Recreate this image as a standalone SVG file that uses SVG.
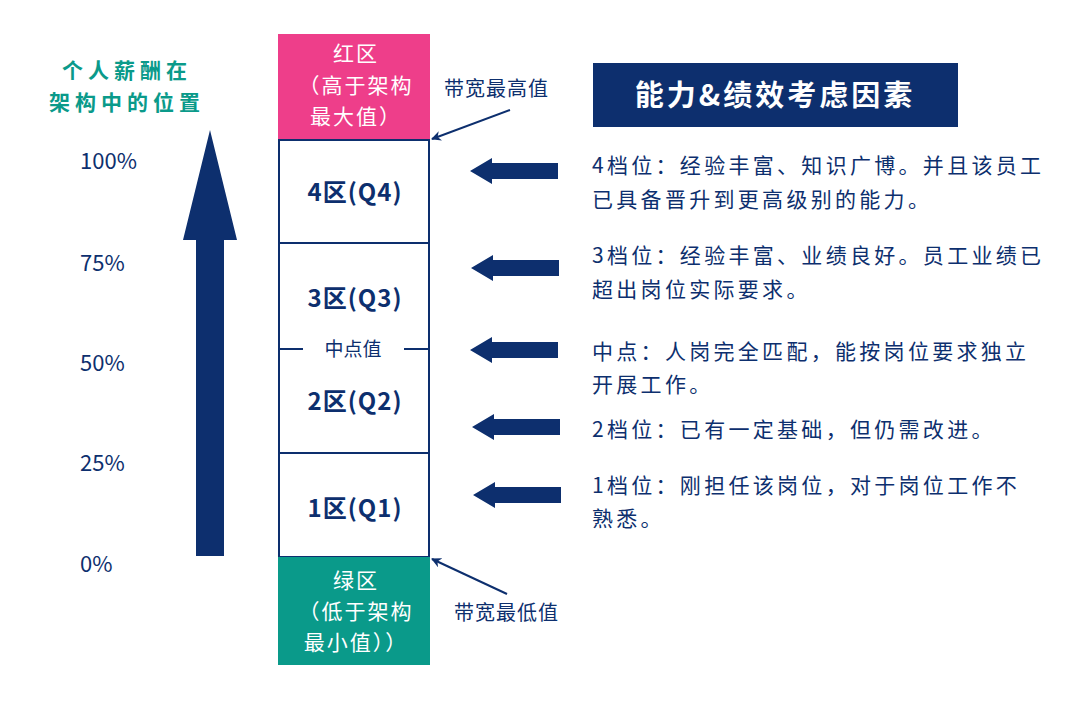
<svg xmlns="http://www.w3.org/2000/svg" width="1080" height="708" viewBox="0 0 1080 708">
<style>
text{font-family:"Noto Sans CJK SC","Noto Sans",sans-serif}
.n{fill:#0d2f6e}
.pc{font-size:22px;fill:#0d2f6e}
.q{font-size:24px;font-weight:bold;fill:#0d2f6e;letter-spacing:1px}
.z{font-size:21px;fill:#fff;letter-spacing:2px}
.d{font-size:21px;fill:#0d2f6e;letter-spacing:3.3px}
.box{fill:#fff;stroke:#0d2f6e;stroke-width:2}
</style>
<defs>
<path id="ar" d="M0,0 L22,-13 L22,-8 L88,-8 L88,8 L22,8 L22,13 Z" fill="#0d2f6e"/>
<marker id="m" markerWidth="10" markerHeight="10" refX="9" refY="5" orient="auto" markerUnits="userSpaceOnUse"><path d="M0,0 L10,5 L0,10 L3,5 Z" fill="#0d2f6e"/></marker>
</defs>
<rect width="1080" height="708" fill="#fff"/>
<g id="yaxis">
<text x="127" y="78" text-anchor="middle" font-size="21" font-weight="bold" fill="#0a9a8a" letter-spacing="5">个人薪酬在</text>
<text x="127" y="110" text-anchor="middle" font-size="21" font-weight="bold" fill="#0a9a8a" letter-spacing="5">架构中的位置</text>
<path d="M210,130 L237,240 L224,240 L224,556 L196,556 L196,240 L183,240 Z" class="n"/>
<text x="80" y="169" class="pc">100%</text>
<text x="80" y="271" class="pc">75%</text>
<text x="80" y="371" class="pc">50%</text>
<text x="80" y="471" class="pc">25%</text>
<text x="80" y="572" class="pc">0%</text>
</g>
<g id="red"><rect x="278" y="34" width="152" height="106" fill="#ee3e8a"/>
<text x="356" y="61" text-anchor="middle" class="z">红区</text>
<text x="356" y="93" text-anchor="middle" class="z">（高于架构</text>
<text x="356" y="124" text-anchor="middle" class="z">最大值）</text></g>
<g id="q4"><rect x="279" y="140" width="150" height="103" class="box"/><text x="355" y="201" text-anchor="middle" class="q">4区(Q4)</text></g>
<g id="q32"><rect x="279" y="243" width="150" height="210" class="box"/>
<text x="355" y="307" text-anchor="middle" class="q">3区(Q3)</text>
<line x1="279" y1="349" x2="303" y2="349" stroke="#0d2f6e" stroke-width="2"/>
<line x1="404" y1="349" x2="429" y2="349" stroke="#0d2f6e" stroke-width="2"/>
<text x="353" y="356" text-anchor="middle" font-size="19" fill="#0d2f6e">中点值</text>
<text x="355" y="410" text-anchor="middle" class="q">2区(Q2)</text></g>
<g id="q1"><rect x="279" y="453" width="150" height="104" class="box"/><text x="355" y="517" text-anchor="middle" class="q">1区(Q1)</text></g>
<g id="green"><rect x="278" y="557" width="152" height="108" fill="#0a9a8a"/>
<text x="356" y="588" text-anchor="middle" class="z">绿区</text>
<text x="356" y="619" text-anchor="middle" class="z">（低于架构</text>
<text x="356" y="650" text-anchor="middle" class="z">最小值））</text></g>
<g id="labels">
<text x="444" y="96" font-size="20" fill="#0d2f6e" letter-spacing="1">带宽最高值</text>
<text x="454" y="620" font-size="20" fill="#0d2f6e" letter-spacing="1">带宽最低值</text>
</g>
<g id="connectors">
<line x1="510" y1="110" x2="432" y2="139" stroke="#0d2f6e" stroke-width="2" marker-end="url(#m)"/>
<line x1="507" y1="594" x2="432" y2="559" stroke="#0d2f6e" stroke-width="2" marker-end="url(#m)"/>
<use href="#ar" x="470" y="171"/>
<use href="#ar" x="471" y="268"/>
<use href="#ar" x="470" y="350"/>
<use href="#ar" x="472" y="427"/>
<use href="#ar" x="473" y="495"/>
</g>
<g id="title"><rect x="593" y="63" width="365" height="64" class="n"/>
<text x="775" y="106" text-anchor="middle" font-size="29" font-weight="bold" fill="#fff" letter-spacing="3">能力&amp;绩效考虑因素</text></g>
<g id="desc">
<text x="592" y="173" class="d">4档位：经验丰富、知识广博。并且该员工</text>
<text x="592" y="207" class="d">已具备晋升到更高级别的能力。</text>
<text x="592" y="263" class="d">3档位：经验丰富、业绩良好。员工业绩已</text>
<text x="592" y="297" class="d">超出岗位实际要求。</text>
<text x="592" y="359" class="d">中点：人岗完全匹配，能按岗位要求独立</text>
<text x="592" y="392" class="d">开展工作。</text>
<text x="592" y="437" class="d">2档位：已有一定基础，但仍需改进。</text>
<text x="592" y="493" class="d">1档位：刚担任该岗位，对于岗位工作不</text>
<text x="592" y="526" class="d">熟悉。</text>
</g>
</svg>
